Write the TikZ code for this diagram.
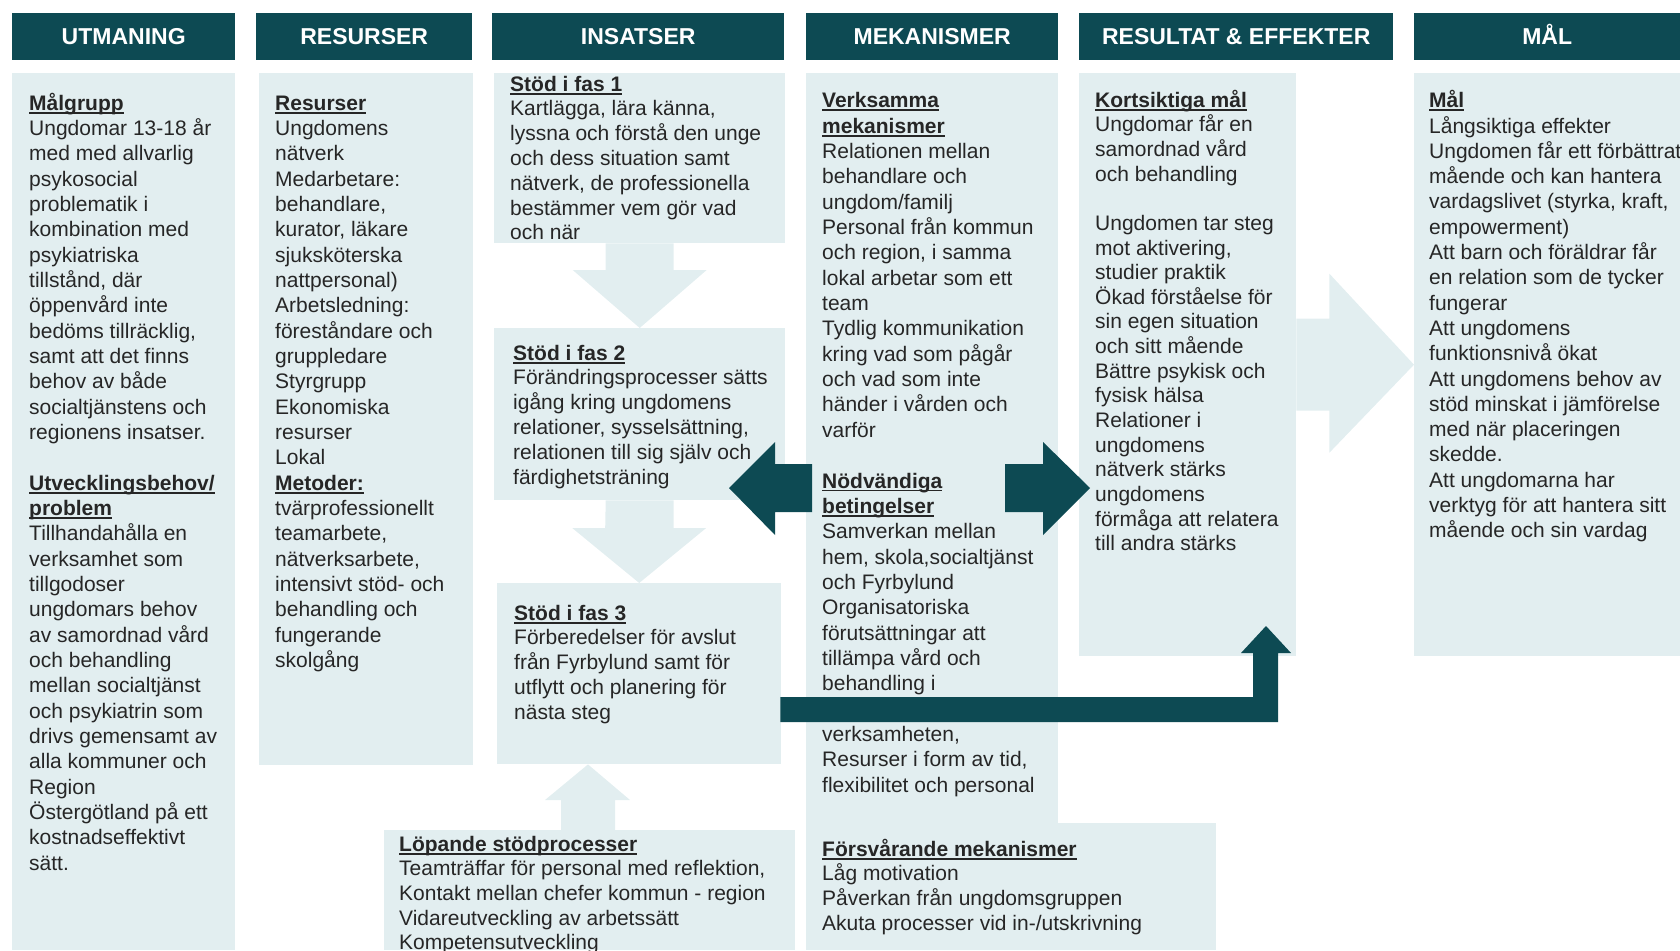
\documentclass[tikz,border=0pt]{standalone}
\usepackage{fontspec}
\setmainfont{Liberation Sans}
\usetikzlibrary{calc}
\definecolor{headc}{RGB}{13,74,83}
\definecolor{boxc}{RGB}{226,238,240}
\definecolor{txtc}{RGB}{38,38,38}
% bold heading with a heavy underline
\newcommand\hd[1]{\setbox0\hbox{\bfseries #1}\rlap{\rule[-3.4pt]{\wd0}{1.7pt}}\box0}
\tikzset{
  colhead/.style={fill=headc, text=white, font=\fontsize{23}{27}\selectfont\bfseries,
    inner sep=0, anchor=north west, minimum height=47, text height=16.5, text depth=0},
  body/.style={fill=boxc, inner sep=0, anchor=north west},
  txt/.style={anchor=north west, inner sep=0, align=left, text=txtc,
    font=\fontsize{21}{#1}\selectfont},
  txt/.default=25.33,
  darkarrow/.style={fill=headc},
  lightarrow/.style={fill=boxc}
}
\begin{document}
\begin{tikzpicture}[x=1pt,y=-1pt]
\useasboundingbox (0,0) rectangle (1680,950);
\clip (0,0) rectangle (1680,950);

% column headers
\node[colhead, minimum width=223] (h1) at (12,13) {UTMANING};
\node[colhead, minimum width=216] (h2) at (256,13) {RESURSER};
\node[colhead, minimum width=292] (h3) at (492,13) {INSATSER};
\node[colhead, minimum width=252] (h4) at (806,13) {MEKANISMER};
\node[colhead, minimum width=314] (h5) at (1079,13) {RESULTAT \& EFFEKTER};
\node[colhead, minimum width=266] (h6) at (1414,13) {MÅL};

% column bodies
\node[body, minimum width=223, minimum height=877] (utmbox) at (12,73) {};
\node[body, minimum width=214, minimum height=692] (resbox) at (259,73) {};
\node[body, minimum width=291, minimum height=170] (fas1) at (494,73) {};
\node[body, minimum width=291, minimum height=172] (fas2) at (494,328) {};
\node[body, minimum width=284, minimum height=181] (fas3) at (497,583) {};
\node[body, minimum width=411, minimum height=120] (lopbox) at (384,830) {};
\node[body, minimum width=252, minimum height=877] (mekbox) at (806,73) {};
\node[body, minimum width=410, minimum height=127] (forsbox) at (806,823) {};
\node[body, minimum width=217, minimum height=583] (resultbox) at (1079,73) {};
\node[body, minimum width=266, minimum height=583] (malbox) at (1414,73) {};

% light flow arrows between the phases
\fill[lightarrow] ($(fas1.south)+(-34,0)$) -- ($(fas1.south)+(34,0)$)
  |- ($(fas2.north)+(34,-58)$) -- ($(fas2.north)+(67,-58)$) -- (fas2.north)
  -- ($(fas2.north)+(-67,-58)$) -- ($(fas2.north)+(-34,-58)$) -- cycle;
\fill[lightarrow] ($(fas2.south)+(-34,0)$) -- ($(fas2.south)+(34,0)$)
  |- ($(fas3.north)+(34,-55)$) -- ($(fas3.north)+(67,-55)$) -- (fas3.north)
  -- ($(fas3.north)+(-67,-55)$) -- ($(fas3.north)+(-34,-55)$) -- cycle;
\coordinate (lopTop) at ($(lopbox.north west)+(204,0)$);
\coordinate (fas3Bot) at (lopTop |- fas3.south);
\fill[lightarrow] ($(lopTop)+(-27,0)$) -- ($(lopTop)+(27,0)$) -- ($(lopTop)+(27,-30)$)
  -- ($(lopTop)+(42,-30)$) -- (fas3Bot) -- ($(lopTop)+(-43,-30)$)
  -- ($(lopTop)+(-27,-30)$) -- cycle;
\fill[lightarrow] ($(resultbox.east)+(0,-46)$) -- ($(resultbox.east)+(33,-46)$)
  -- ($(resultbox.east)+(33,-91)$) -- (malbox.west) -- ($(resultbox.east)+(33,88)$)
  -- ($(resultbox.east)+(33,46)$) -- ($(resultbox.east)+(0,46)$) -- cycle;

% texts
\node[txt] (utmtxt) at (29,92.3) {\strut\hd{Målgrupp}\\
Ungdomar 13-18 år\\
med med allvarlig\\
psykosocial\\
problematik i\\
kombination med\\
psykiatriska\\
tillstånd, där\\
öppenvård inte\\
bedöms tillräcklig,\\
samt att det finns\\
behov av både\\
socialtjänstens och\\
regionens insatser.\\
~\\
\hd{Utvecklingsbehov/}\\
\hd{problem}\\
Tillhandahålla en\\
verksamhet som\\
tillgodoser\\
ungdomars behov\\
av samordnad vård\\
och behandling\\
mellan socialtjänst\\
och psykiatrin som\\
drivs gemensamt av\\
alla kommuner och\\
Region\\
Östergötland på ett\\
kostnadseffektivt\\
sätt.};

\node[txt] (restxt) at (275,92.3) {\strut\hd{Resurser}\\
Ungdomens\\
nätverk\\
Medarbetare:\\
behandlare,\\
kurator, läkare\\
sjuksköterska\\
nattpersonal)\\
Arbetsledning:\\
föreståndare och\\
gruppledare\\
Styrgrupp\\
Ekonomiska\\
resurser\\
Lokal\\
\hd{Metoder:}\\
tvärprofessionellt\\
teamarbete,\\
nätverksarbete,\\
intensivt stöd- och\\
behandling och\\
fungerande\\
skolgång};

\node[txt=24.8] (fas1txt) at (510,73.6) {\strut\hd{Stöd i fas 1}\\
Kartlägga, lära känna,\\
lyssna och förstå den unge\\
och dess situation samt\\
nätverk, de professionella\\
bestämmer vem gör vad\\
och när};

\node[txt=24.8] (fas2txt) at (513,342.6) {\strut\hd{Stöd i fas 2}\\
Förändringsprocesser sätts\\
igång kring ungdomens\\
relationer, sysselsättning,\\
relationen till sig själv och\\
färdighetsträning};

\node[txt=24.8] (fas3txt) at (514,602.6) {\strut\hd{Stöd i fas 3}\\
Förberedelser för avslut\\
från Fyrbylund samt för\\
utflytt och planering för\\
nästa steg};

\node[txt=24.6] (loptxt) at (399,833.8) {\strut\hd{Löpande stödprocesser}\\
Teamträffar för personal med reflektion,\\
Kontakt mellan chefer kommun - region\\
Vidareutveckling av arbetssätt\\
Kompetensutveckling};

\node[txt=25.35] (mektxt) at (822,89.8) {\strut\hd{Verksamma}\\
\hd{mekanismer}\\
Relationen mellan\\
behandlare och\\
ungdom/familj\\
Personal från kommun\\
och region, i samma\\
lokal arbetar som ett\\
team\\
Tydlig kommunikation\\
kring vad som pågår\\
och vad som inte\\
händer i vården och\\
varför\\
~\\
\hd{Nödvändiga}\\
\hd{betingelser}\\
Samverkan mellan\\
hem, skola,socialtjänst\\
och Fyrbylund\\
Organisatoriska\\
förutsättningar att\\
tillämpa vård och\\
behandling i\\
~\\
verksamheten,\\
Resurser i form av tid,\\
flexibilitet och personal};

\node[txt=24.8] (forstxt) at (822,838.6) {\strut\hd{Försvårande mekanismer}\\
Låg motivation\\
Påverkan från ungdomsgruppen\\
Akuta processer vid in-/utskrivning};

\node[txt=24.64] (korttxt) at (1095,89.7) {\strut\hd{Kortsiktiga mål}\\
Ungdomar får en\\
samordnad vård\\
och behandling\\
~\\
Ungdomen tar steg\\
mot aktivering,\\
studier praktik\\
Ökad förståelse för\\
sin egen situation\\
och sitt mående\\
Bättre psykisk och\\
fysisk hälsa\\
Relationer i\\
ungdomens\\
nätverk stärks\\
ungdomens\\
förmåga att relatera\\
till andra stärks};

\node[txt=25.3] (maltxt) at (1429,89.8) {\strut\hd{Mål}\\
Långsiktiga effekter\\
Ungdomen får ett förbättrat\\
mående och kan hantera\\
vardagslivet (styrka, kraft,\\
empowerment)\\
Att barn och föräldrar får\\
en relation som de tycker\\
fungerar\\
Att ungdomens\\
funktionsnivå ökat\\
Att ungdomens behov av\\
stöd minskat i jämförelse\\
med när placeringen\\
skedde.\\
Att ungdomarna har\\
verktyg för att hantera sitt\\
mående och sin vardag};

% dark arrows out of the mechanisms column
\coordinate (mekL) at (812,488);
\coordinate (fas2R) at (729,488);
\fill[darkarrow] (mekL) -- ++(0,-24) -- ++(-37,0) -- ++(0,-22) -- (fas2R)
  -- ($(fas2R)+(46,47)$) -- ++(0,-23) -- ++(37,0) -- cycle;
\coordinate (mekR) at (1005,488);
\coordinate (resL) at (1090,488);
\fill[darkarrow] (mekR) -- ++(0,-24) -- ++(38,0) -- ++(0,-22) -- (resL)
  -- ($(resL)+(-47,47)$) -- ++(0,-23) -- ++(-38,0) -- cycle;
% bar from phase 3 up into the short-term results
\coordinate (barStart) at ($(fas3.east)+(-1,36)$);
\coordinate (resTip) at (1266,626);
\fill[darkarrow] ($(barStart)+(0,-12.5)$) -| ($(resTip)+(-13,27)$) -- ++(-12,0)
  -- (resTip) -- ($(resTip)+(25,27)$) -- ++(-13,0) |- ($(barStart)+(0,12.5)$) -- cycle;
\end{tikzpicture}
\end{document}
